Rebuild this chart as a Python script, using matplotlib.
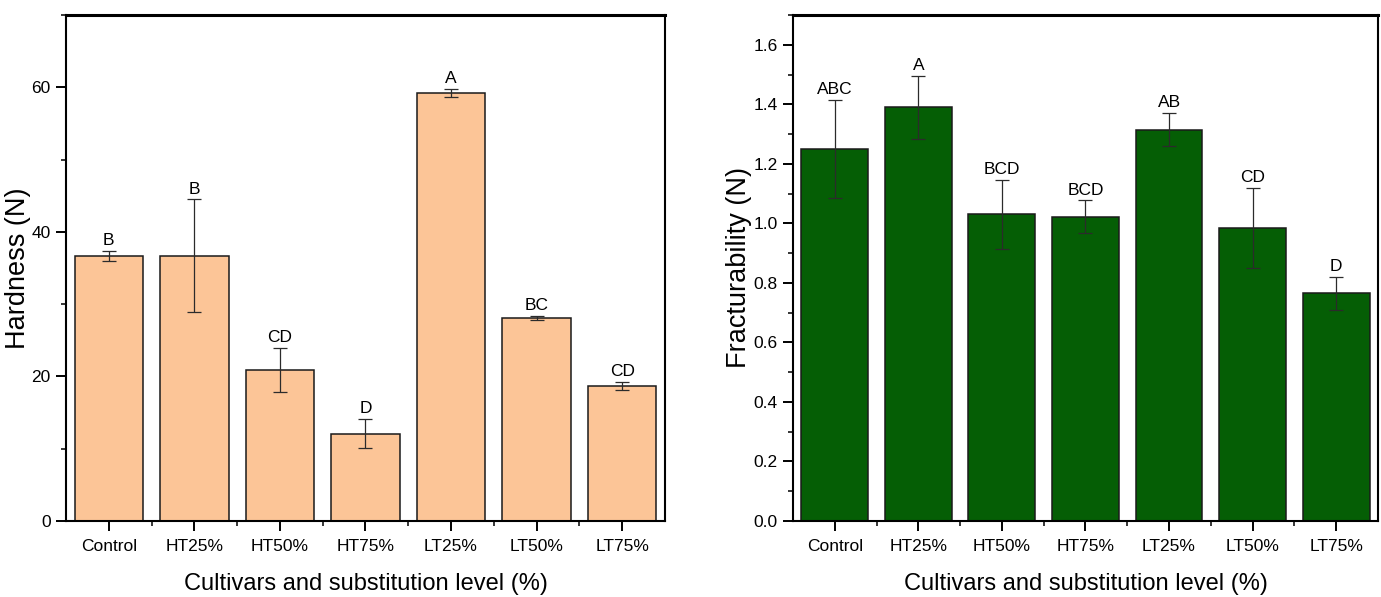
import numpy as np
import matplotlib.pyplot as plt
from matplotlib.ticker import MultipleLocator

# Texture measurements per cultivar / substitution level
samples = ['Control', 'HT25%', 'HT50%', 'HT75%', 'LT25%', 'LT50%', 'LT75%']

hardness = [36.7, 36.7, 20.9, 12.1, 59.2, 28.1, 18.7]
hardness_err = [0.7, 7.8, 3.1, 2.0, 0.6, 0.3, 0.55]
hardness_groups = ['B', 'B', 'CD', 'D', 'A', 'BC', 'CD']

fracturability = [1.25, 1.39, 1.03, 1.022, 1.315, 0.985, 0.765]
fracturability_err = [0.165, 0.105, 0.115, 0.055, 0.055, 0.135, 0.055]
fracturability_groups = ['ABC', 'A', 'BCD', 'BCD', 'AB', 'CD', 'D']

plt.rcParams['font.family'] = ['Liberation Sans', 'DejaVu Sans']

fig = plt.figure(figsize=(13.81, 5.97), dpi=100)
ax1 = fig.add_axes([0.0478, 0.1273, 0.4337, 0.8476])
ax2 = fig.add_axes([0.5742, 0.1273, 0.4236, 0.8476])


def draw_panel(ax, vals, errs, groups, color, ylabel, ylim, major, minor, fmt, ylab_x):
    x = np.arange(len(samples))
    ax.bar(x, vals, width=0.8, color=color, edgecolor='#1a1a1a', linewidth=1.1, zorder=2)
    ax.errorbar(x, vals, yerr=errs, fmt='none', ecolor='#2b2b2b', elinewidth=0.9,
                capsize=5, capthick=0.9, zorder=3)
    for xi, v, e, g in zip(x, vals, errs, groups):
        ax.annotate(g, (xi, v + e), xytext=(0, 2), textcoords='offset points',
                    ha='center', va='bottom', fontsize=12.5)
    ax.set_xlim(-0.5, 6.5)
    ax.set_ylim(*ylim)
    ax.set_xticks(x)
    ax.set_xticklabels(samples, fontsize=12.5)
    ax.set_xticks(x[:-1] + 0.5, minor=True)
    ax.yaxis.set_major_locator(MultipleLocator(major))
    ax.yaxis.set_minor_locator(MultipleLocator(minor))
    ax.yaxis.set_major_formatter(fmt)
    ax.tick_params(axis='y', labelsize=12.5)
    ax.tick_params(which='major', direction='out', length=7, width=1.4, pad=4)
    ax.tick_params(which='minor', direction='out', length=3.5, width=1.1)
    ax.tick_params(axis='x', which='major', pad=6)
    for s in ax.spines.values():
        s.set_linewidth(1.5)
    ax.spines['top'].set_linewidth(2.2)
    ax.set_xlabel('Cultivars and substitution level (%)', fontsize=17)
    ax.xaxis.set_label_coords(0.5, -0.103)
    ax.set_ylabel(ylabel, fontsize=19.5)
    ax.yaxis.set_label_coords(ylab_x, 0.5)


draw_panel(ax1, hardness, hardness_err, hardness_groups, '#fcc597',
           'Hardness (N)', (0, 70), 20, 10, '{x:.0f}', -0.058)
draw_panel(ax2, fracturability, fracturability_err, fracturability_groups, '#055e05',
           'Fracturability (N)', (0, 1.7), 0.2, 0.1, '{x:.1f}', -0.07)

fig.savefig('out.png', dpi=100, facecolor='white')
